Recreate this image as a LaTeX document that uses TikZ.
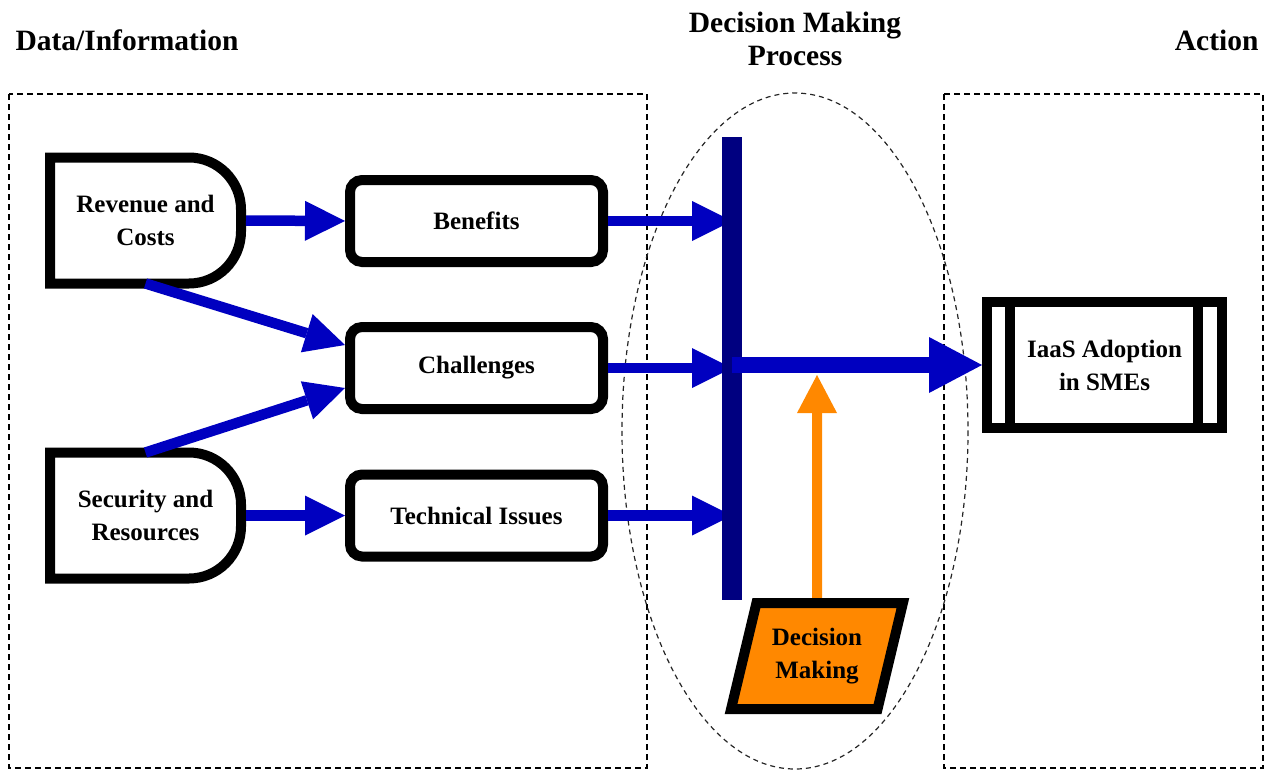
\documentclass[tikz,border=0pt]{standalone}
\usepackage{fontspec}
\setmainfont{Liberation Serif}
\usetikzlibrary{arrows.meta,positioning,shapes.geometric}
\definecolor{IaasBlue}{HTML}{0000C0}
\definecolor{IaasNavy}{HTML}{000080}
\definecolor{IaasOrange}{HTML}{FF8800}

\begin{document}
\begin{tikzpicture}[
        x=1pt,y=-1pt,
        txt/.style={font=\bfseries\fontsize{25}{33}\selectfont,align=center},
        head/.style={font=\bfseries\fontsize{29.5}{33}\selectfont,align=center},
        dbox/.style={draw,dash pattern=on 6pt off 4pt,line width=1.2pt},
        rbox/.style={txt,draw,line width=10pt,rounded corners=12pt,minimum width=253pt,minimum height=82pt},
        dshape/.style={txt,minimum width=191pt,minimum height=126pt,outer sep=0pt},
        pbox/.style={txt,draw,line width=10pt,minimum width=235pt,minimum height=126pt},
        dmbox/.style={txt,trapezium,trapezium left angle=72,trapezium right angle=108,trapezium stretches=true,
          draw,line width=10pt,fill=IaasOrange,minimum width=172pt,minimum height=106pt},
        arr/.style={-{Triangle[length=40pt,width=40pt,line width=0pt]},line width=10.5pt,IaasBlue},
        bigarr/.style={-{Triangle[length=53pt,width=56pt,line width=0pt]},line width=16pt,IaasBlue},
        oarr/.style={-{Triangle[length=38pt,width=40pt,line width=0pt]},line width=10pt,IaasOrange}
      ]
        \useasboundingbox (0,0) rectangle (1272,771);
        % column headings
        \node[head,anchor=base west] (hdata) at (12,50) {Data/Information};
        \node[head] (hdec) at (795,38.5) {Decision Making\\Process};
        \node[head,anchor=base east] (hact) at (1262,50) {Action};
        % dashed frames
        \draw[dbox] (9,94) rectangle (647,768);
        \draw[dbox] (944,94) rectangle (1263,768);
        \draw[dbox,line width=1.2pt,dash pattern=on 5pt off 4pt,black!85] (795,431) ellipse [x radius=173,y radius=338];
        % data sources
        \node[dshape] (rc) at (145.5,220.5) {Revenue and\\Costs};
        \node[dshape] (sr) at (145.5,515.5) {Security and\\Resources};
        \foreach \n in {rc,sr}
          \draw[line width=10pt] (\n.south west) -- (\n.north west) -- ([xshift=-52pt]\n.north east)
            arc[start angle=-90,end angle=0,radius=52] -- ([yshift=52pt]\n.south east)
            arc[start angle=0,end angle=90,radius=52] -- cycle;
        % information
        \node[rbox] (bf) at (476.5,221) {Benefits};
        \node[rbox] (ch) at (476.5,368) {Challenges};
        \node[rbox] (ti) at (476.5,515.5) {Technical Issues};
        \draw[arr] ([xshift=5pt]rc.east) -- (bf.west);
        \draw[arr] ([xshift=5pt]sr.east) -- (ti.west);
        \draw[arr] (rc.south) -- ([yshift=23pt]ch.west);
        \draw[arr] (sr.north) -- ([yshift=-20pt]ch.west);
        % decision bar
        \coordinate (barc) at (732,368.5);
        \foreach \b in {bf,ch,ti}
          \draw[arr] (\b.east) -- (\b.east -| barc);
        \node[fill=IaasNavy,minimum width=20pt,minimum height=463pt,inner sep=0pt] (bar) at (barc) {};
        % action
        \node[pbox] (ia) at (1104.5,365) {IaaS Adoption\\in SMEs};
        \draw[line width=10pt] ([xshift=28pt]ia.north west) -- ([xshift=28pt]ia.south west);
        \draw[line width=10pt] ([xshift=-29pt]ia.north east) -- ([xshift=-29pt]ia.south east);
        \draw[bigarr] (bar.center |- ia.west) -- (ia.west);
        % decision making
        \node[dmbox] (dm) at (817,656) {Decision\\Making};
        \coordinate (dmtip) at (817,375);
        \draw[oarr] (dm.north) -- (dmtip);
      \end{tikzpicture}
\end{document}
